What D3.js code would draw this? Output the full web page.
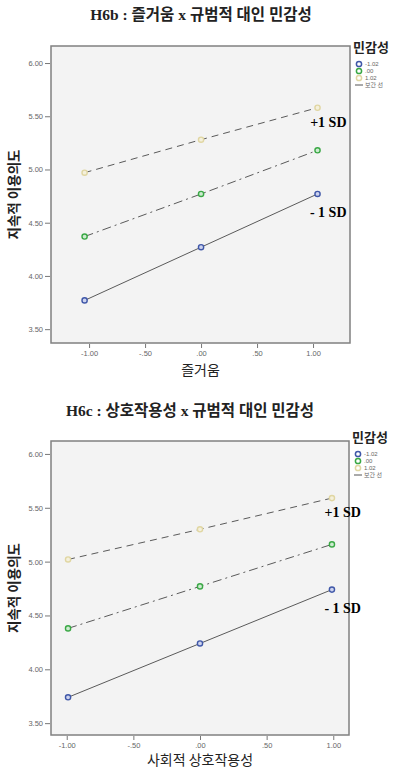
<!DOCTYPE html>
<html>
<head>
<meta charset="utf-8">
<script src="https://cdn.jsdelivr.net/npm/d3@7"></script>
<style>
  body { margin: 0; background: #fff; }
  svg { display: block; }
  .tick text { font-family: "Liberation Sans", Arial, sans-serif; font-size: 7.5px; fill: #666; }
  .tick line { stroke: #777; }
</style>
</head>
<body>
<svg id="chart" width="394" height="768"></svg>
<script>
// Moderator groups (규범적 대인 민감성)
const groups = ["-1.02", ".00", "1.02"];
const groupColors = ["#3f57a8", "#3aa845", "#e0d6a2"];
const groupFills = ["#cdd3ee", "#cdebd0", "#f4f0dc"];
const groupDash = [null, "9,4,2,4", "7,5"];

// H6b : 즐거움
const xH6b = [-1.04, 0, 1.04];
const h6bLow = [3.77, 4.27, 4.77];
const h6bMid = [4.37, 4.77, 5.18];
const h6bHigh = [4.97, 5.28, 5.58];

// H6c : 상호작용성
const xH6c = [-0.99, 0, 0.99];
const h6cLow = [3.74, 4.24, 4.74];
const h6cMid = [4.38, 4.77, 5.16];
const h6cHigh = [5.02, 5.30, 5.59];

const yTicks = [3.5, 4.0, 4.5, 5.0, 5.5, 6.0];
const xTicks = [-1.0, -0.5, 0, 0.5, 1.0];

// SPSS style number: .50, -.50, 1.00 (plain hyphen, no leading zero)
const spss = v => d3.format(".2f")(v).replace("\u2212", "-").replace(/^(-?)0\./, "$1.");

const svg = d3.select("#chart");

function drawPanel(cfg) {
    const x = d3.scaleLinear().domain(cfg.xDomain).range([cfg.left, cfg.right]);
    const y = d3.scaleLinear().domain(cfg.yDomain).range([cfg.bottom, cfg.top]);
    const g = svg.append("g");

    // title
    g.append("text")
        .attr("x", cfg.titleX).attr("y", cfg.titleY)
        .attr("text-anchor", "middle")
        .style("font-family", "'Liberation Serif', 'Noto Sans CJK KR', serif")
        .style("font-weight", "bold")
        .style("font-size", "15.5px")
        .attr("fill", "#222")
        .text(cfg.title);

    // plot background + frame
    g.append("rect")
        .attr("x", cfg.left).attr("y", cfg.top)
        .attr("width", cfg.right - cfg.left).attr("height", cfg.bottom - cfg.top)
        .attr("fill", "#f3f3f3").attr("stroke", "#808080").attr("stroke-width", 1.5);

    // axes
    const yAxis = g.append("g")
        .attr("transform", `translate(${cfg.left - 1},0)`)
        .call(d3.axisLeft(y).tickValues(yTicks).tickFormat(spss).tickSize(5).tickPadding(2));
    yAxis.select(".domain").remove();

    const xAxis = g.append("g")
        .attr("transform", `translate(0,${cfg.bottom + 1})`)
        .call(d3.axisBottom(x).tickValues(xTicks).tickFormat(spss).tickSize(4).tickPadding(3));
    xAxis.select(".domain").remove();

    // axis titles
    g.append("text")
        .attr("transform", `translate(19,${(cfg.top + cfg.bottom) / 2}) rotate(-90)`)
        .attr("text-anchor", "middle")
        .style("font-family", "'Noto Sans CJK KR', sans-serif")
        .style("font-weight", "bold")
        .style("font-size", "13.5px")
        .attr("fill", "#222")
        .text("지속적 이용의도");

    g.append("text")
        .attr("x", (cfg.left + cfg.right) / 2).attr("y", cfg.xTitleY)
        .attr("text-anchor", "middle")
        .style("font-family", "'Noto Sans CJK KR', sans-serif")
        .style("font-size", "14px")
        .attr("fill", "#222")
        .text(cfg.xTitle);

    // lines + points per group
    const line = d3.line().x(d => x(d[0])).y(d => y(d[1]));
    cfg.series.forEach((vals, i) => {
        const pts = cfg.xs.map((xv, j) => [xv, vals[j]]);
        g.append("path")
            .datum(pts)
            .attr("d", line)
            .attr("fill", "none")
            .attr("stroke", "#5a5a5a")
            .attr("stroke-width", 1)
            .attr("stroke-dasharray", groupDash[i]);
        g.selectAll(null)
            .data(pts)
            .join("circle")
            .attr("cx", d => x(d[0])).attr("cy", d => y(d[1]))
            .attr("r", 2.6)
            .attr("fill", groupFills[i])
            .attr("stroke", groupColors[i])
            .attr("stroke-width", 1.4);
    });

    // SD labels
    const lastX = x(cfg.xs[cfg.xs.length - 1]) + 29;
    const sdFont = "'Liberation Serif', 'Times New Roman', serif";
    g.append("text")
        .attr("x", lastX).attr("y", y(cfg.series[2][2]) + 19)
        .attr("text-anchor", "end")
        .style("font-family", sdFont).style("font-weight", "bold").style("font-size", "14px")
        .text("+1 SD");
    g.append("text")
        .attr("x", lastX).attr("y", y(cfg.series[0][2]) + 23)
        .attr("text-anchor", "end")
        .style("font-family", sdFont).style("font-weight", "bold").style("font-size", "14px")
        .text("- 1 SD");

    // legend
    const lg = g.append("g").attr("transform", `translate(${cfg.right + 3},${cfg.legendY})`);
    lg.append("text")
        .attr("x", 0).attr("y", 5)
        .style("font-family", "'Noto Sans CJK KR', sans-serif")
        .style("font-weight", "bold").style("font-size", "13px")
        .attr("fill", "#222")
        .text("민감성");
    groups.forEach((name, i) => {
        const yy = 17 + i * 7;
        lg.append("circle")
            .attr("cx", 6).attr("cy", yy).attr("r", 2.6)
            .attr("fill", "none").attr("stroke", groupColors[i]).attr("stroke-width", 1.5);
        lg.append("text")
            .attr("x", 12).attr("y", yy + 2.2)
            .style("font-family", "'Liberation Sans', sans-serif").style("font-size", "6px")
            .attr("fill", "#666")
            .text(name);
    });
    const ly = 17 + 3 * 7;
    lg.append("line")
        .attr("x1", 2).attr("x2", 10).attr("y1", ly).attr("y2", ly)
        .attr("stroke", "#555").attr("stroke-width", 1);
    lg.append("text")
        .attr("x", 12).attr("y", ly + 2.2)
        .style("font-family", "'Noto Sans CJK KR', sans-serif").style("font-size", "6px")
        .attr("fill", "#666")
        .text("보간 선");
}

drawPanel({
    title: "H6b : 즐거움 x 규범적 대인 민감성",
    titleX: 201, titleY: 20,
    left: 51, right: 350, top: 46, bottom: 343,
    xDomain: [-1.34, 1.33], yDomain: [3.37, 6.16],
    xTitle: "즐거움", xTitleY: 375,
    legendY: 47,
    xs: xH6b,
    series: [h6bLow, h6bMid, h6bHigh]
});

drawPanel({
    title: "H6c : 상호작용성 x 규범적 대인 민감성",
    titleX: 190, titleY: 416,
    left: 51, right: 349, top: 441, bottom: 735,
    xDomain: [-1.118, 1.118], yDomain: [3.39, 6.12],
    xTitle: "사회적 상호작용성", xTitleY: 765,
    legendY: 437,
    xs: xH6c,
    series: [h6cLow, h6cMid, h6cHigh]
});
</script>
</body>
</html>
